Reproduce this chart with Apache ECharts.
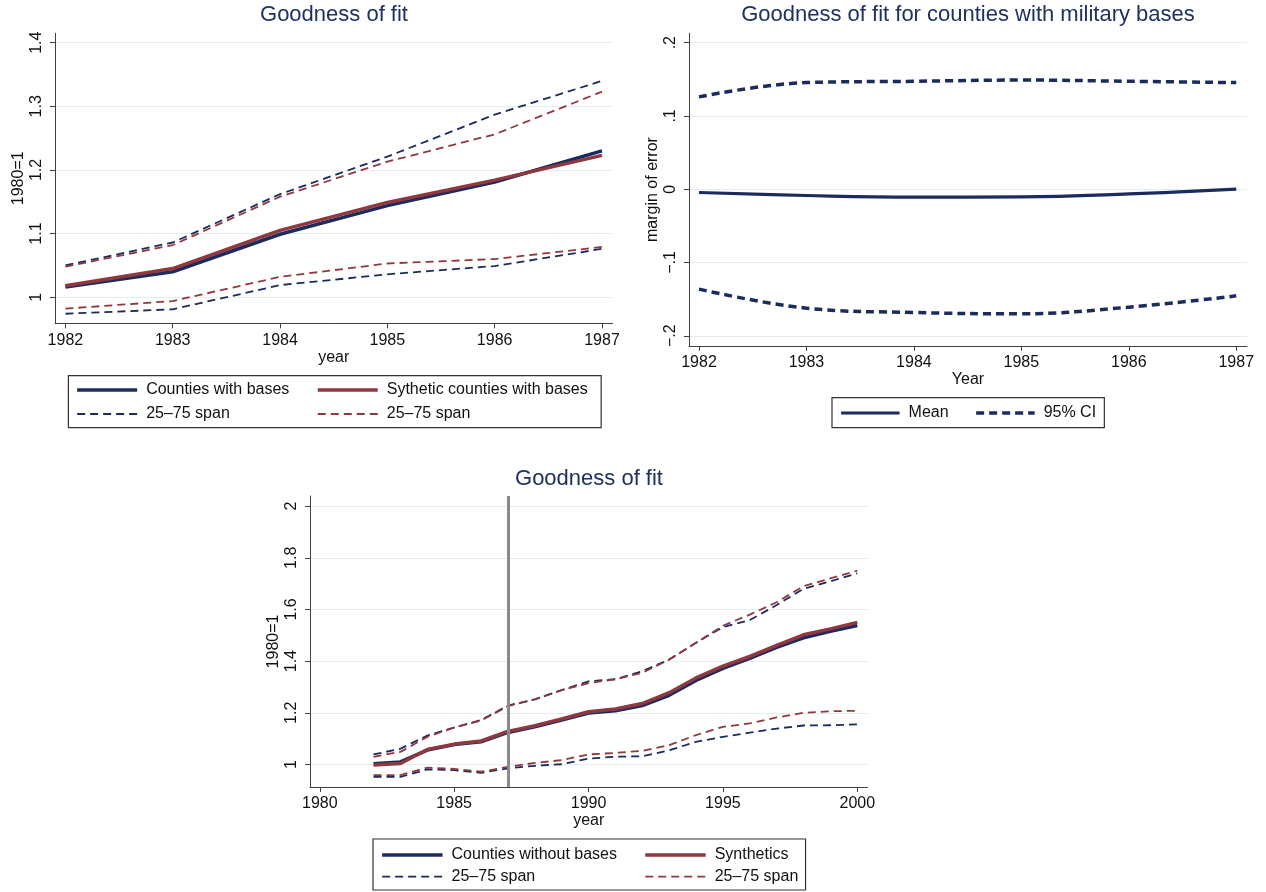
<!DOCTYPE html>
<html>
<head>
<meta charset="utf-8">
<title>Goodness of fit</title>
<script src="https://cdn.jsdelivr.net/npm/echarts@6.0.0/dist/echarts.min.js"></script>
<style>
  html, body { margin: 0; padding: 0; background: #ffffff; }
  #chart { width: 1266px; height: 892px; }
</style>
</head>
<body>
<div id="chart"></div>
<script>
// ---- Data: counties with military bases, 1982-1987 (index, 1980 = 1) ----
const yearsShort = [1982, 1983, 1984, 1985, 1986, 1987];
const withBases          = [1.016, 1.040, 1.099, 1.144, 1.181, 1.230];
const syntheticWithBases = [1.018, 1.045, 1.105, 1.149, 1.184, 1.223];
const withBasesP75       = [1.050, 1.086, 1.162, 1.221, 1.287, 1.340];
const withBasesP25       = [0.974, 0.981, 1.019, 1.036, 1.049, 1.076];
const syntheticP75       = [1.048, 1.082, 1.158, 1.213, 1.256, 1.323];
const syntheticP25       = [0.982, 0.994, 1.032, 1.053, 1.060, 1.079];

// ---- Data: margin of error for counties with military bases ----
const errMean  = [-0.0045, -0.0086, -0.0109, -0.0105, -0.0064, 0.0];
const errUpper = [0.126, 0.1455, 0.1473, 0.149, 0.1473, 0.1455];
const errLower = [-0.1364, -0.1623, -0.1682, -0.170, -0.161, -0.1455];

// ---- Data: counties without bases, 1982-2000 ----
const yearsLong = [1982, 1983, 1984, 1985, 1986, 1987, 1988, 1989, 1990, 1991,
                   1992, 1993, 1994, 1995, 1996, 1997, 1998, 1999, 2000];
const withoutBases = [1.003, 1.010, 1.056, 1.077, 1.088, 1.124, 1.146, 1.172, 1.199, 1.208,
                      1.228, 1.268, 1.325, 1.372, 1.411, 1.453, 1.490, 1.515, 1.538];
const synthetics   = [0.998, 1.004, 1.058, 1.079, 1.091, 1.128, 1.150, 1.176, 1.204, 1.215,
                      1.236, 1.278, 1.335, 1.381, 1.418, 1.461, 1.502, 1.525, 1.550];
const withoutP75   = [1.039, 1.061, 1.112, 1.143, 1.172, 1.228, 1.252, 1.288, 1.322, 1.330,
                      1.361, 1.406, 1.471, 1.532, 1.559, 1.617, 1.680, 1.709, 1.740];
const synthP75     = [1.030, 1.049, 1.107, 1.143, 1.170, 1.226, 1.252, 1.288, 1.315, 1.330,
                      1.355, 1.406, 1.471, 1.537, 1.580, 1.628, 1.690, 1.720, 1.750];
const withoutP25   = [0.952, 0.952, 0.981, 0.978, 0.968, 0.985, 0.995, 1.001, 1.023, 1.030,
                      1.032, 1.055, 1.088, 1.107, 1.123, 1.139, 1.151, 1.152, 1.155];
const synthP25     = [0.959, 0.959, 0.988, 0.983, 0.972, 0.991, 1.006, 1.017, 1.039, 1.045,
                      1.053, 1.075, 1.114, 1.146, 1.159, 1.182, 1.200, 1.206, 1.208];
const treatmentYear = 1987;

// ---- Tick values ----
const ticksTopLeftY  = [1, 1.1, 1.2, 1.3, 1.4];
const ticksTopRightY = [-0.2, -0.1, 0, 0.1, 0.2];
const ticksBottomX   = [1980, 1985, 1990, 1995, 2000];
const ticksBottomY   = [1, 1.2, 1.4, 1.6, 1.8, 2];

// ---- Axis extents (plot region padding around the tick range) ----
const extTopLeftX  = [1981.903, 1987.098];
const extTopLeftY  = [0.959, 1.4148];
const extTopRightX = [1981.907, 1987.1];
const extTopRightY = [-0.2137, 0.2128];
const extBottomX   = [1979.636, 2000.38];
const extBottomY   = [0.913, 2.039];

// ---- Styling ----
const FONT = '"Liberation Sans", Arial, Helvetica, sans-serif';
const NAVY = '#1b2b5b';
const MAROON = '#903840';
const TITLE_COLOR = '#1f3160';
const AXIS_COLOR = '#404040';
const GRID_COLOR = '#e4edf0';
const TEXT_COLOR = '#111111';
const DASH = [8, 5];
const SOLID_W = 3.5;
const SPAN_W = 1.8;
const CI_W = 3.5;

const pairs = (xs, ys) => xs.map((x, i) => [x, ys[i]]);
const spanLabel = name => name.split(': ').pop();

function fmtPlain(v) { return String(+v.toFixed(2)); }
function fmtStata(v) {
  if (Math.abs(v) < 1e-9) return '0';
  const s = String(+Math.abs(v).toFixed(2)).replace(/^0/, '');
  return (v < 0 ? '\u2212' : '') + s;
}

function xAxisCfg(gridIndex, ext, ticks, name) {
  return {
    type: 'value', gridIndex, min: ext[0], max: ext[1],
    name, nameLocation: 'middle', nameGap: 25,
    nameTextStyle: { fontFamily: FONT, fontSize: 16, color: TEXT_COLOR },
    axisLine: { show: true, onZero: false, lineStyle: { color: AXIS_COLOR, width: 1 } },
    axisTick: { show: true, length: 5, customValues: ticks, lineStyle: { color: AXIS_COLOR, width: 1 } },
    axisLabel: { customValues: ticks, margin: 9, fontFamily: FONT, fontSize: 16, color: TEXT_COLOR,
                 formatter: v => String(Math.round(v)) },
    splitLine: { show: false }
  };
}

function yAxisCfg(gridIndex, ext, ticks, name, fmt) {
  return {
    type: 'value', gridIndex, min: ext[0], max: ext[1],
    name, nameLocation: 'middle', nameGap: 28,
    nameTextStyle: { fontFamily: FONT, fontSize: 16, color: TEXT_COLOR },
    axisLine: { show: true, onZero: false, lineStyle: { color: AXIS_COLOR, width: 1 } },
    axisTick: { show: true, length: 5, customValues: ticks, lineStyle: { color: AXIS_COLOR, width: 1 } },
    axisLabel: { customValues: ticks, rotate: 90, margin: 10, fontFamily: FONT, fontSize: 16,
                 color: TEXT_COLOR, formatter: fmt },
    splitLine: { show: true, lineStyle: { color: GRID_COLOR, width: 1.2 } }
  };
}

function lineSeries(name, axisIndex, xs, ys, color, width, dash, extra) {
  return Object.assign({
    type: 'line', name, xAxisIndex: axisIndex, yAxisIndex: axisIndex,
    data: pairs(xs, ys), symbol: 'none', showSymbol: false,
    lineStyle: { color, width, type: dash || 'solid', cap: 'butt', join: 'round' },
    itemStyle: { color }, emphasis: { disabled: true }, silent: true,
    animation: false
  }, extra || {});
}

// legend entry: a plain line sample (no marker) with its own width / dash
function entry(name, color, width, dash) {
  return {
    name,
    itemStyle: { color: 'transparent', borderWidth: 0, opacity: 0 },
    lineStyle: { color, width, type: dash || 'solid', cap: 'butt', opacity: 1 }
  };
}

const legendText = (width) => ({
  fontFamily: FONT, fontSize: 16, color: TEXT_COLOR, width, lineHeight: 16, padding: [0, 0, 0, 4]
});

const option = {
  backgroundColor: '#ffffff',
  animation: false,
  graphic: [
    { type: 'text', x: 334, y: 15, style: { text: 'Goodness of fit', fontFamily: FONT, fontSize: 22,
      fill: TITLE_COLOR, align: 'center', verticalAlign: 'middle' } },
    { type: 'text', x: 968, y: 15, style: { text: 'Goodness of fit for counties with military bases',
      fontFamily: FONT, fontSize: 22, fill: TITLE_COLOR, align: 'center', verticalAlign: 'middle' } },
    { type: 'text', x: 589, y: 479, style: { text: 'Goodness of fit', fontFamily: FONT, fontSize: 22,
      fill: TITLE_COLOR, align: 'center', verticalAlign: 'middle' } }
  ],
  grid: [
    { left: 55, top: 33.3, width: 557.5, height: 290 },
    { left: 689, top: 33.3, width: 558, height: 312.5 },
    { left: 310, top: 496, width: 557.5, height: 291 }
  ],
  xAxis: [
    xAxisCfg(0, extTopLeftX, yearsShort, 'year'),
    xAxisCfg(1, extTopRightX, yearsShort, 'Year'),
    xAxisCfg(2, extBottomX, ticksBottomX, 'year')
  ],
  yAxis: [
    yAxisCfg(0, extTopLeftY, ticksTopLeftY, '1980=1', fmtPlain),
    yAxisCfg(1, extTopRightY, ticksTopRightY, 'margin of error', fmtStata),
    yAxisCfg(2, extBottomY, ticksBottomY, '1980=1', fmtPlain)
  ],
  legend: [
    // top-left, first column (carries the frame)
    { orient: 'vertical', left: 68.4, top: 375.7, padding: [6.3, 285, 5.7, 7],
      itemWidth: 60, itemHeight: 16, itemGap: 8, selectedMode: false,
      borderColor: '#333333', borderWidth: 1.2, backgroundColor: '#ffffff',
      data: [entry('Counties with bases', NAVY, SOLID_W),
             entry('Counties with bases: 25\u201375 span', NAVY, SPAN_W, DASH)],
      formatter: spanLabel, textStyle: legendText(170) },
    // top-left, second column
    { orient: 'vertical', left: 316, top: 382, padding: 0,
      itemWidth: 60, itemHeight: 16, itemGap: 8, selectedMode: false,
      data: [entry('Sythetic counties with bases', MAROON, SOLID_W),
             entry('Sythetic counties with bases: 25\u201375 span', MAROON, SPAN_W, DASH)],
      formatter: spanLabel, textStyle: legendText(null) },
    // top-right
    { orient: 'horizontal', left: 832, top: 397.7, padding: [7.3, 4.7, 6.7, 7.5],
      itemWidth: 58.5, itemHeight: 16, itemGap: 9.8, selectedMode: false,
      borderColor: '#333333', borderWidth: 1.2, backgroundColor: '#ffffff',
      data: [entry('Mean', NAVY, 3.2), entry('95% CI', NAVY, CI_W, DASH)],
      textStyle: legendText(56) },
    // bottom, first column (carries the frame)
    { orient: 'vertical', left: 373, top: 839, padding: [8, 174, 5.3, 7.4],
      itemWidth: 60.4, itemHeight: 16, itemGap: 5.7, selectedMode: false,
      borderColor: '#333333', borderWidth: 1.2, backgroundColor: '#ffffff',
      data: [entry('Counties without bases', NAVY, SOLID_W),
             entry('Counties without bases: 25\u201375 span', NAVY, SPAN_W, DASH)],
      formatter: spanLabel, textStyle: legendText(180) },
    // bottom, second column
    { orient: 'vertical', left: 643.5, top: 847, padding: 0,
      itemWidth: 60.4, itemHeight: 16, itemGap: 5.7, selectedMode: false,
      data: [entry('Synthetics', MAROON, SOLID_W),
             entry('Synthetics: 25\u201375 span', MAROON, SPAN_W, DASH)],
      formatter: spanLabel, textStyle: legendText(null) }
  ],
  series: [
    // top-left panel
    lineSeries('Counties with bases', 0, yearsShort, withBases, NAVY, SOLID_W),
    lineSeries('Sythetic counties with bases', 0, yearsShort, syntheticWithBases, MAROON, SOLID_W),
    lineSeries('Counties with bases: 25\u201375 span', 0, yearsShort, withBasesP75, NAVY, SPAN_W, DASH),
    lineSeries('Counties with bases: 25\u201375 span', 0, yearsShort, withBasesP25, NAVY, SPAN_W, DASH),
    lineSeries('Sythetic counties with bases: 25\u201375 span', 0, yearsShort, syntheticP75, MAROON, SPAN_W, DASH),
    lineSeries('Sythetic counties with bases: 25\u201375 span', 0, yearsShort, syntheticP25, MAROON, SPAN_W, DASH),

    // top-right panel
    lineSeries('Mean', 1, yearsShort, errMean, NAVY, 3.2, null, { smooth: 0.4 }),
    lineSeries('95% CI', 1, yearsShort, errUpper, NAVY, CI_W, DASH, { smooth: 0.4 }),
    lineSeries('95% CI', 1, yearsShort, errLower, NAVY, CI_W, DASH, { smooth: 0.4 }),

    // bottom panel
    lineSeries('Counties without bases', 2, yearsLong, withoutBases, NAVY, SOLID_W, null, {
      markLine: {
        silent: true, symbol: ['none', 'none'], label: { show: false },
        lineStyle: { color: '#8a8a8a', width: 3, type: 'solid' },
        emphasis: { disabled: true }, animation: false,
        data: [{ xAxis: treatmentYear }]
      }
    }),
    lineSeries('Synthetics', 2, yearsLong, synthetics, MAROON, SOLID_W),
    lineSeries('Counties without bases: 25\u201375 span', 2, yearsLong, withoutP75, NAVY, SPAN_W, DASH),
    lineSeries('Counties without bases: 25\u201375 span', 2, yearsLong, withoutP25, NAVY, SPAN_W, DASH),
    lineSeries('Synthetics: 25\u201375 span', 2, yearsLong, synthP75, MAROON, SPAN_W, DASH),
    lineSeries('Synthetics: 25\u201375 span', 2, yearsLong, synthP25, MAROON, SPAN_W, DASH)
  ]
};

const chart = echarts.init(document.getElementById('chart'), null, { renderer: 'canvas' });
chart.setOption(option);
</script>
</body>
</html>
